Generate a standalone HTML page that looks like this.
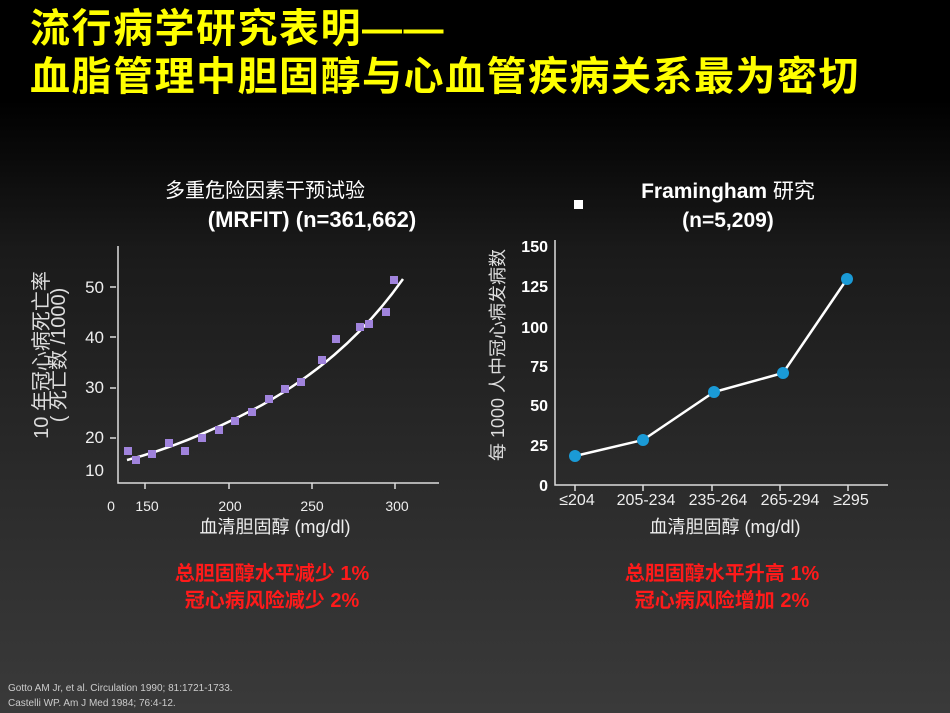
<!DOCTYPE html>
<html><head><meta charset="utf-8"><style>
html,body{margin:0;padding:0;width:950px;height:713px;overflow:hidden}
body{background:linear-gradient(#000 0%,#000 14%,#1a1a1a 35%,#2c2c2c 70%,#3a3a3a 100%)}
svg{position:absolute;left:0;top:0}
text{font-family:"Liberation Sans","Noto Sans CJK SC",sans-serif}
</style></head><body>
<svg width="950" height="713" viewBox="0 0 950 713">
<g fill="#ffff00" font-weight="bold" font-size="40" letter-spacing="1.5">
<text x="30" y="42">流行病学研究表明——</text>
<text x="30" y="90">血脂管理中胆固醇与心血管疾病关系最为密切</text>
</g>
<!-- left chart -->
<g fill="#fff">
<text x="265" y="197" font-size="20" text-anchor="middle">多重危险因素干预试验</text>
<text x="312" y="227" font-size="22" font-weight="bold" text-anchor="middle">(MRFIT) (n=361,662)</text>
</g>
<g stroke="#ddd" stroke-width="1.5" fill="none">
<path d="M118 246 V483 H439"/>
<path d="M145 483v6M229 483v6M312 483v6M395 483v6M110 287h6M110 337h6M110 388h6M110 438h6"/>
</g>
<g fill="#eee" font-size="17" text-anchor="end">
<text x="104" y="293">50</text><text x="104" y="343">40</text><text x="104" y="393">30</text><text x="104" y="443">20</text><text x="104" y="476">10</text>
</g>
<g fill="#eee" font-size="14" text-anchor="middle">
<text x="111" y="511">0</text><text x="147" y="511">150</text><text x="230" y="511">200</text><text x="312" y="511">250</text><text x="397" y="511">300</text>
</g>
<text x="275" y="533" fill="#eee" font-size="18" text-anchor="middle">血清胆固醇 (mg/dl)</text>
<g fill="#ddd" font-size="20" text-anchor="middle">
<text transform="translate(48,355) rotate(-90)">10 年冠心病死亡率</text>
<text transform="translate(65,355) rotate(-90)">( 死亡数 /1000)</text>
</g>
<path d="M127 460 C170 449 215 430 262 405 C310 378 360 340 403 279" stroke="#fff" stroke-width="2.5" fill="none"/>
<g fill="#a083dc">
<rect x="124" y="447" width="8" height="8"/><rect x="132" y="456" width="8" height="8"/><rect x="148" y="450" width="8" height="8"/><rect x="165" y="439" width="8" height="8"/><rect x="181" y="447" width="8" height="8"/><rect x="198" y="434" width="8" height="8"/><rect x="215" y="426" width="8" height="8"/><rect x="231" y="417" width="8" height="8"/><rect x="248" y="408" width="8" height="8"/><rect x="265" y="395" width="8" height="8"/><rect x="281" y="385" width="8" height="8"/><rect x="297" y="378" width="8" height="8"/><rect x="318" y="356" width="8" height="8"/><rect x="332" y="335" width="8" height="8"/><rect x="356" y="323" width="8" height="8"/><rect x="365" y="320" width="8" height="8"/><rect x="382" y="308" width="8" height="8"/><rect x="390" y="276" width="8" height="8"/>
</g>
<!-- right chart -->
<rect x="574" y="200" width="9" height="9" fill="#fff"/>
<g fill="#fff" font-size="21" text-anchor="middle">
<text x="728" y="198"><tspan font-weight="bold">Framingham</tspan> 研究</text>
<text x="728" y="227" font-weight="bold">(n=5,209)</text>
</g>
<g stroke="#ddd" stroke-width="1.5" fill="none">
<path d="M555 240 V485 H888"/>
<path d="M575 485v6M643 485v6M712 485v6M780 485v6M848 485v6"/>
</g>
<g fill="#fff" font-size="16" font-weight="bold" text-anchor="end">
<text x="548" y="252">150</text><text x="548" y="292">125</text><text x="548" y="333">100</text><text x="548" y="372">75</text><text x="548" y="411">50</text><text x="548" y="451">25</text><text x="548" y="491">0</text>
</g>
<g fill="#eee" font-size="16" text-anchor="middle">
<text x="577" y="505">≤204</text><text x="646" y="505">205-234</text><text x="718" y="505">235-264</text><text x="790" y="505">265-294</text><text x="851" y="505">≥295</text>
</g>
<text x="725" y="533" fill="#eee" font-size="18" text-anchor="middle">血清胆固醇 (mg/dl)</text>
<text transform="translate(504,355) rotate(-90)" fill="#ddd" font-size="18" text-anchor="middle">每 1000 人中冠心病发病数</text>
<polyline points="575,456 643,440 714,392 783,373 847,279" stroke="#fff" stroke-width="2.5" fill="none"/>
<g fill="#1a9ad6">
<circle cx="575" cy="456" r="6"/><circle cx="643" cy="440" r="6"/><circle cx="714" cy="392" r="6"/><circle cx="783" cy="373" r="6"/><circle cx="847" cy="279" r="6"/>
</g>
<!-- conclusions -->
<g fill="#ff1a1a" font-size="20" font-weight="bold" text-anchor="middle">
<text x="272" y="580">总胆固醇水平减少 1%</text>
<text x="272" y="607">冠心病风险减少 2%</text>
<text x="722" y="580">总胆固醇水平升高 1%</text>
<text x="722" y="607">冠心病风险增加 2%</text>
</g>
<g fill="#ccc" font-size="10">
<text x="8" y="691">Gotto AM Jr,  et al. Circulation 1990; 81:1721-1733.</text>
<text x="8" y="706">Castelli  WP.  Am  J  Med 1984; 76:4-12.</text>
</g>
</svg>
</body></html>
